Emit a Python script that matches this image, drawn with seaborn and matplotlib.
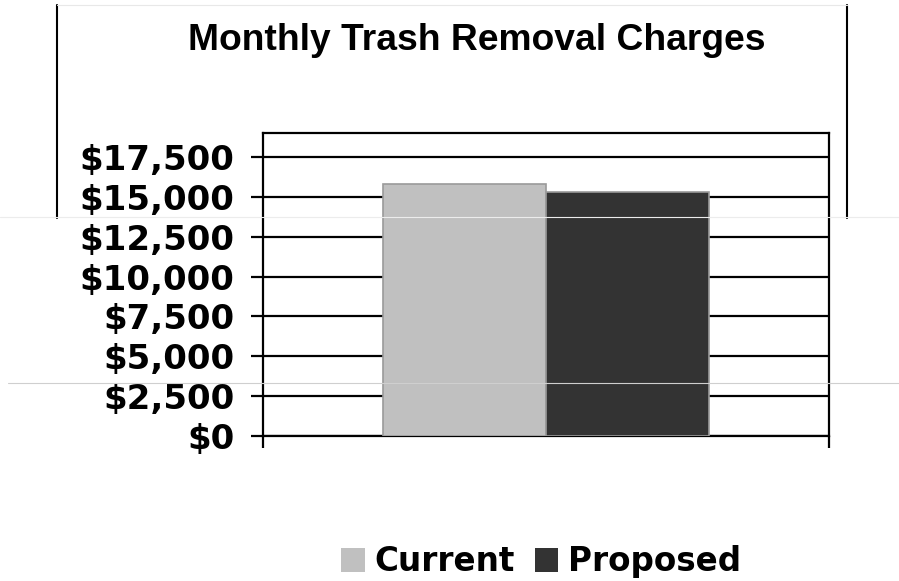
import pandas as pd
import seaborn as sns
import matplotlib.pyplot as plt
from matplotlib.patches import Patch
from matplotlib.lines import Line2D
from matplotlib.ticker import FuncFormatter, MultipleLocator

# data
plans = ["Current", "Proposed"]
charges = [15800, 15300]
colors = ["#C0C0C0", "#333333"]
title = "Monthly Trash Removal Charges"

df = pd.DataFrame({"group": [""] * len(plans), "plan": plans, "charge": charges})

sns.set_style("white")
plt.rcParams["font.family"] = ["DejaVu Sans"]
plt.rcParams["text.color"] = "black"

fig = plt.figure(figsize=(8.99, 5.81), dpi=100)
ax = fig.add_axes([0.2926, 0.2496, 0.6295, 0.5215])

sns.barplot(data=df, x="group", y="charge", hue="plan", palette=colors,
            width=0.575, gap=0, saturation=1, edgecolor="#9a9a9a",
            linewidth=1.2, legend=False, ax=ax, zorder=3)

ax.set_xlim(-0.5, 0.5)
ax.set_ylim(0, 19000)
ax.yaxis.set_major_locator(MultipleLocator(2500))
ax.yaxis.set_major_formatter(FuncFormatter(lambda v, p: f"${v:,.0f}"))
ax.grid(axis="y", color="black", linewidth=1.6, zorder=0)
ax.set_axisbelow(True)
ax.set_xticks([-0.5, 0.5], labels=["", ""])
ax.tick_params(axis="both", which="major", left=True, bottom=True,
               direction="out", length=8.5, width=1.6, color="black",
               labelcolor="black")
ax.tick_params(axis="y", labelsize=24.5, pad=12)
for lab in ax.get_yticklabels():
    lab.set_fontweight("bold")
ax.set_xlabel("")
ax.set_ylabel("")
for s in ax.spines.values():
    s.set_visible(True)
    s.set_color("black")
    s.set_linewidth(1.6)

fig.text(0.53, 0.931, title, ha="center", va="center", fontsize=26.8,
         fontweight="bold", color="black",
         family=["Liberation Sans", "DejaVu Sans"])

handles = [Patch(facecolor=c, edgecolor="none") for c in colors]
fig.legend(handles, plans, loc="center", bbox_to_anchor=(0.602, 0.033), ncol=2,
           frameon=False, prop={"size": 23.5, "weight": "bold"},
           handlelength=0.72, handleheight=0.78, handletextpad=0.3,
           columnspacing=0.6, labelcolor="black")

# slide frame leftovers from the original picture
fig.add_artist(Line2D([0.063, 0.063], [0.991, 0.625], color="black", lw=1.5))
fig.add_artist(Line2D([0.942, 0.942], [0.991, 0.625], color="black", lw=1.5))
fig.add_artist(Line2D([0.063, 0.942], [0.991, 0.991], color="#e8e8e8", lw=0.8))
fig.add_artist(Line2D([0.0, 1.0], [0.627, 0.627], color="#ececec", lw=0.8))
fig.add_artist(Line2D([0.009, 1.0], [0.341, 0.341], color="#cfcfcf", lw=0.8, zorder=5))

fig.savefig("out.png", dpi=100)
